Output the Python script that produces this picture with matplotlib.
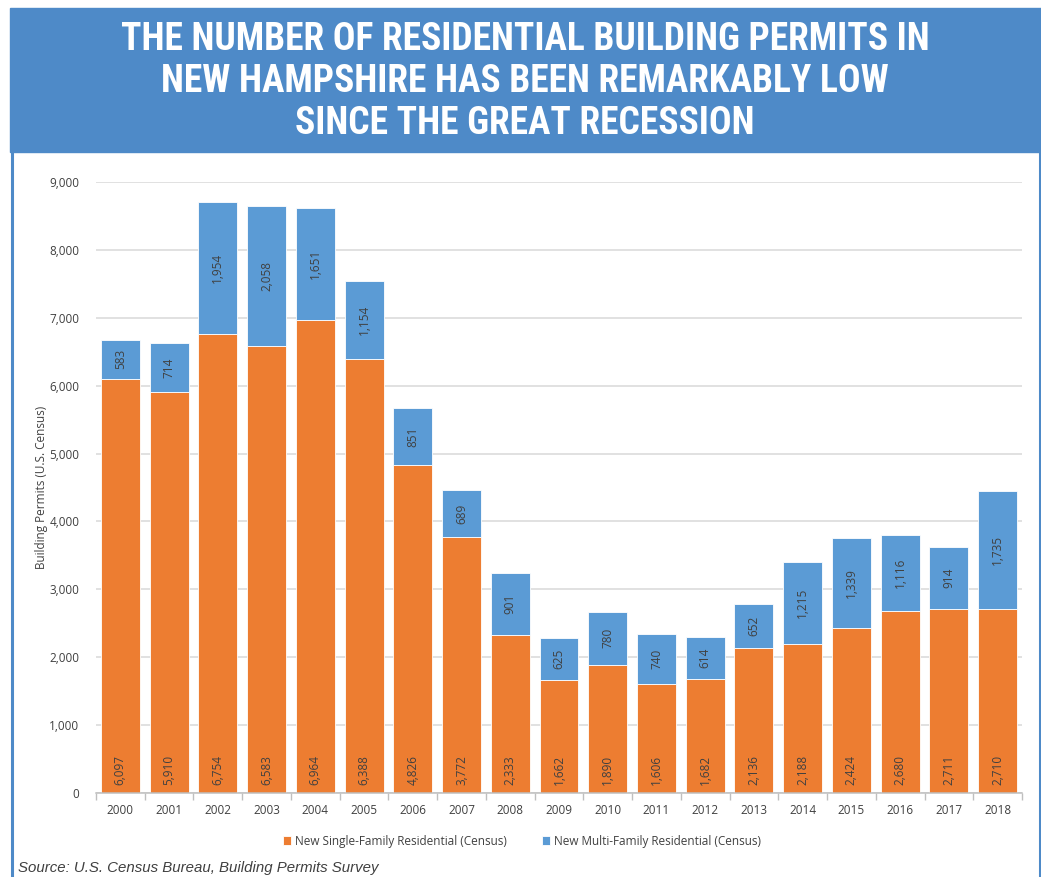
import matplotlib
matplotlib.use('Agg')
import matplotlib.pyplot as plt
from matplotlib.patches import Rectangle
from matplotlib.lines import Line2D

years = [str(y) for y in range(2000, 2019)]
single_family = [6097, 5910, 6754, 6583, 6964, 6388, 4826, 3772, 2333, 1662,
                 1890, 1606, 1682, 2136, 2188, 2424, 2680, 2711, 2710]
multi_family = [583, 714, 1954, 2058, 1651, 1154, 851, 689, 901, 625,
                780, 740, 614, 652, 1215, 1339, 1116, 914, 1735]

title_lines = ['THE NUMBER OF RESIDENTIAL BUILDING PERMITS IN',
               'NEW HAMPSHIRE HAS BEEN REMARKABLY LOW',
               'SINCE THE GREAT RECESSION']

ORANGE = '#ED7D31'
BLUE = '#5B9BD5'
BANNER = '#4E8AC8'
TEXT = '#404040'

plt.rcParams['font.family'] = ['Open Sans', 'DejaVu Sans']

W, H = 1041, 877
fig = plt.figure(figsize=(W / 100, H / 100), dpi=100)

# header banner and side borders
fig.patches.append(Rectangle((10 / W, 1 - 152 / H), 1 - 10 / W, 144 / H,
                             transform=fig.transFigure, color=BANNER, zorder=0))
for xb in (11.5, 1039.5):
    fig.add_artist(Line2D([xb / W, xb / W], [0, 1 - 152 / H],
                          transform=fig.transFigure, color=BANNER, lw=2.2))

for i, line in enumerate(title_lines):
    fig.text(525 / W, 1 - (40 + 42 * i) / H, line, ha='center', va='center',
             color='white', fontsize=27, fontweight='bold',
             family=['Roboto Condensed', 'DejaVu Sans'])

ax = fig.add_axes([96 / W, 84 / H, 926 / W, 611 / H])
x = list(range(len(years)))
ax.bar(x, single_family, width=0.8, color=ORANGE, edgecolor='white',
       linewidth=0.6, label='New Single-Family Residential (Census)', zorder=2)
ax.bar(x, multi_family, width=0.8, bottom=single_family, color=BLUE,
       edgecolor='white', linewidth=0.6,
       label='New Multi-Family Residential (Census)', zorder=2)

# values: single-family at the base, multi-family centred in its segment
for i in x:
    ax.annotate(f'{single_family[i]:,}', xy=(i, 0), xytext=(0, 6),
                textcoords='offset points', rotation=90, ha='center',
                va='bottom', fontsize=8.5, color=TEXT, zorder=3)
    ax.text(i, single_family[i] + multi_family[i] / 2, f'{multi_family[i]:,}',
            rotation=90, ha='center', va='center', fontsize=8.5, color=TEXT,
            zorder=3)

ax.set_xlim(-0.5, len(years) - 0.5)
ax.set_ylim(0, 9000)
ax.set_yticks(range(0, 9001, 1000))
ax.set_yticklabels([f'{v:,}' for v in range(0, 9001, 1000)])
ax.set_xticks(x)
ax.set_xticklabels(years)
ax.set_xticks([i - 0.5 for i in range(len(years) + 1)], minor=True)
ax.tick_params(axis='x', which='major', length=0, pad=8, labelsize=8.5,
               labelcolor=TEXT)
ax.tick_params(axis='x', which='minor', length=5, color='#BFBFBF', width=1)
ax.tick_params(axis='y', length=0, pad=12, labelsize=8.5, labelcolor=TEXT)
ax.grid(axis='y', color='#D9D9D9', linewidth=1.1, zorder=0)
ax.set_axisbelow(True)
for side in ('top', 'right', 'left'):
    ax.spines[side].set_visible(False)
ax.spines['bottom'].set_color('#BFBFBF')
ax.spines['bottom'].set_linewidth(1.1)

ax.set_ylabel('Building Permits (U.S. Census)', fontsize=8.5, color=TEXT,
              labelpad=1)

fig.legend(loc='center', bbox_to_anchor=(522 / W, 1 - 841 / H), ncol=2,
           frameon=False, fontsize=8.5, handlelength=0.7, handleheight=0.7,
           handletextpad=0.3, columnspacing=3.0, labelcolor=TEXT)

fig.text(18 / W, 1 - 868 / H, 'Source: U.S. Census Bureau, Building Permits Survey',
         ha='left', va='center', fontsize=10.8, style='italic', color=TEXT,
         family=['Liberation Sans', 'DejaVu Sans'])

fig.savefig('out.png', dpi=100)
